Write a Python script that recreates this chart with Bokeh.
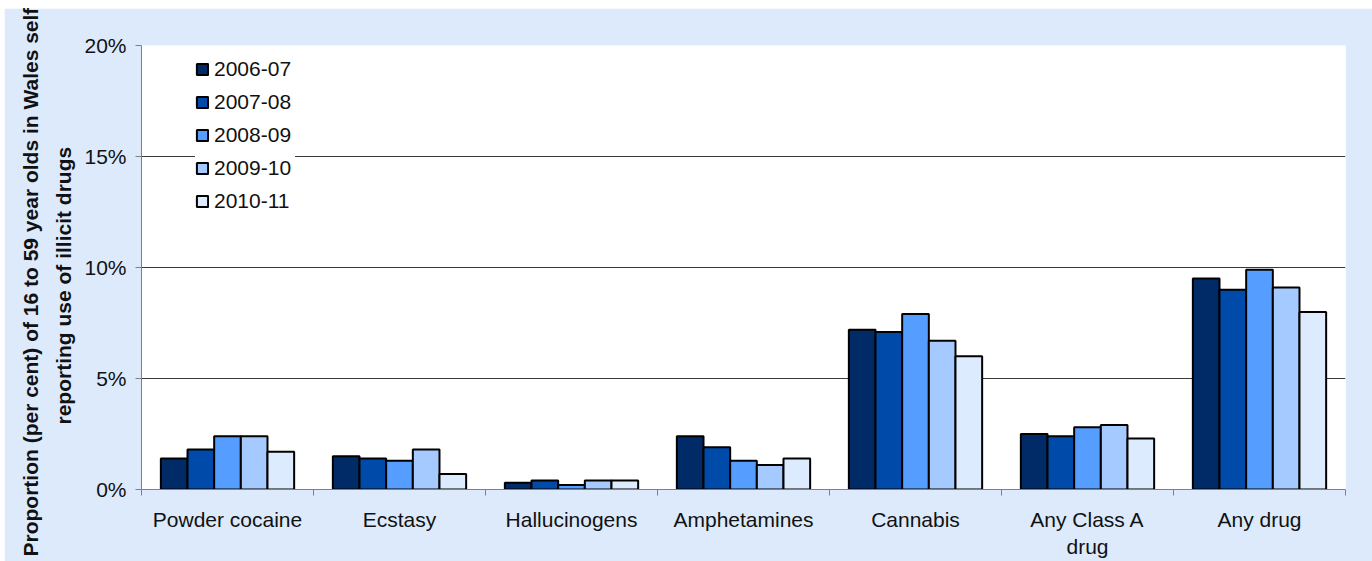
from bokeh.plotting import figure
from bokeh.models import (Range1d, FixedTicker, PrintfTickFormatter, Legend, LegendItem,
                          Title, ColumnDataSource)
from bokeh.transform import dodge
from bokeh.embed import file_html
from bokeh.resources import INLINE

categories = ["Powder cocaine", "Ecstasy", "Hallucinogens", "Amphetamines",
              "Cannabis", "Any Class A\ndrug", "Any drug"]
years = ["2006-07", "2007-08", "2008-09", "2009-10", "2010-11"]
v_2006_07 = [1.4, 1.5, 0.3, 2.4, 7.2, 2.5, 9.5]
v_2007_08 = [1.8, 1.4, 0.4, 1.9, 7.1, 2.4, 9.0]
v_2008_09 = [2.4, 1.3, 0.2, 1.3, 7.9, 2.8, 9.9]
v_2009_10 = [2.4, 1.8, 0.4, 1.1, 6.7, 2.9, 9.1]
v_2010_11 = [1.7, 0.7, 0.4, 1.4, 6.0, 2.3, 8.0]
y_ticks = [0, 5, 10, 15, 20]
y_title_1 = "Proportion (per cent) of 16 to 59 year olds in Wales self-"
y_title_2 = "reporting use of illicit drugs"

series = [v_2006_07, v_2007_08, v_2008_09, v_2009_10, v_2010_11]
colors = ["#002B66", "#004BAA", "#559EFF", "#A5CAFF", "#DDEBFF"]
FONT = "Liberation Sans"
BG = "#DCEAFC"

positions = list(range(1, len(categories) + 1))
src = ColumnDataSource(dict(x=positions, **{y: s for y, s in zip(years, series)}))

p = figure(width=1368, height=553, output_backend="svg", toolbar_location=None,
           x_range=Range1d(0.5, len(categories) + 0.5), y_range=Range1d(0, 20),
           min_border_left=137, min_border_right=27, min_border_top=37, min_border_bottom=72)
p.margin = (8, 0, 0, 4)
p.background_fill_color = "white"
p.border_fill_color = BG
p.outline_line_color = None

bw = 0.155
offsets = [-2 * bw, -bw, 0, bw, 2 * bw]
renderers = []
for yname, col, off in zip(years, colors, offsets):
    r = p.vbar(x=dodge("x", off), top=yname, width=bw, source=src,
               fill_color=col, line_color="black", line_width=2)
    renderers.append(r)

# x axis
xa = p.xaxis[0]
xa.ticker = FixedTicker(ticks=positions, minor_ticks=[k + 0.5 for k in range(len(categories) + 1)])
xa.major_label_overrides = {k: c for k, c in zip(positions, categories)}
xa.major_tick_line_color = None
xa.major_tick_out = 0
xa.major_tick_in = 0
xa.minor_tick_line_color = "#808080"
xa.minor_tick_out = 6
xa.minor_tick_in = 0
xa.axis_line_color = "#808080"
xa.major_label_text_font = FONT
xa.major_label_text_font_size = "21px"
xa.major_label_text_color = "#111111"
xa.major_label_standoff = 12

# y axis
ya = p.yaxis[0]
ya.ticker = FixedTicker(ticks=y_ticks)
ya.formatter = PrintfTickFormatter(format="%d%%")
ya.minor_tick_line_color = None
ya.major_tick_line_color = "#808080"
ya.major_tick_out = 6
ya.major_tick_in = 0
ya.axis_line_color = "#808080"
ya.major_label_text_font = FONT
ya.major_label_text_font_size = "21px"
ya.major_label_text_color = "#111111"
ya.major_label_standoff = 9

p.xgrid.grid_line_color = None
p.ygrid.ticker = FixedTicker(ticks=y_ticks)
p.ygrid.grid_line_color = "#3a3a3a"
p.ygrid.grid_line_width = 1

# y title: two lines as side titles (line 2 nearest the axis), started from the bottom
for txt, off, so in [(y_title_2, 65, 14), (y_title_1, -67, 2)]:
    p.add_layout(Title(text=txt, align="left", offset=off, standoff=so,
                       text_font=FONT, text_font_style="bold", text_font_size="21px",
                       text_color="#111111"), "left")

legend = Legend(items=[LegendItem(label=y, renderers=[r]) for y, r in zip(years, renderers)],
                location=(54, 276), orientation="vertical",
                background_fill_color="white", background_fill_alpha=1.0,
                border_line_color=None, padding=8, margin=0, spacing=9,
                glyph_width=14, glyph_height=14, label_height=24, label_width=81,
                label_standoff=5,
                label_text_font=FONT, label_text_font_size="21px", label_text_color="#111111")
p.add_layout(legend)

open("out.html", "w").write(file_html(p, INLINE))
